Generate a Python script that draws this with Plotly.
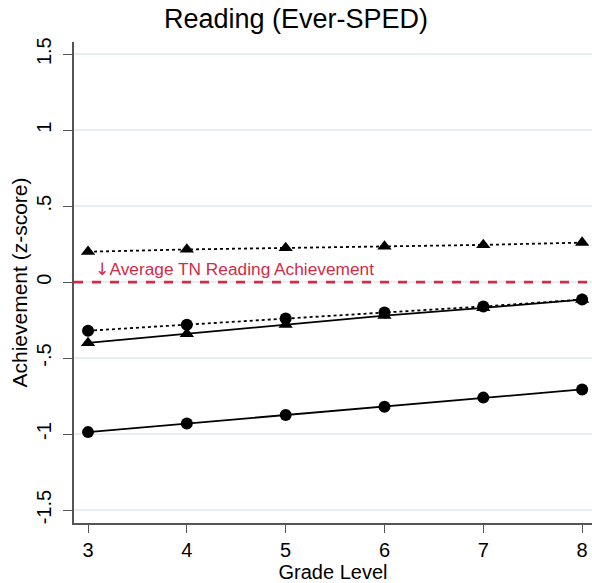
import plotly.graph_objects as go

grades = [3, 4, 5, 6, 7, 8]

# four achievement trajectories (z-scores)
tri_dotted = [0.20, 0.215, 0.225, 0.235, 0.245, 0.26]
circ_dotted = [-0.32, -0.28, -0.24, -0.20, -0.16, -0.115]
tri_solid = [-0.40, -0.34, -0.28, -0.22, -0.17, -0.115]
circ_solid = [-0.987, -0.93, -0.875, -0.82, -0.76, -0.706]

ytick_vals = [-1.5, -1, -0.5, 0, 0.5, 1, 1.5]
ytick_text = ["-1.5", "-1", "-.5", "0", ".5", "1", "1.5"]

avg_level = 0
red = "#d22b47"
font_family = "Liberation Sans, Arial, Helvetica"

fig = go.Figure()

series = [
    (tri_dotted, "triangle-up", "dot", 12.5),
    (circ_dotted, "circle", "dot", 12),
    (tri_solid, "triangle-up", "solid", 12.5),
    (circ_solid, "circle", "solid", 12),
]
for vals, sym, dash, size in series:
    fig.add_trace(go.Scatter(
        x=grades, y=vals, mode="lines+markers",
        line=dict(color="black", width=1.8, dash=dash),
        marker=dict(symbol=sym, size=size, color="black"),
        showlegend=False, cliponaxis=False,
    ))

fig.add_trace(go.Scatter(
    x=[2.858, 8.2], y=[avg_level, avg_level], mode="lines",
    line=dict(color=red, width=2.8, dash="dash"),
    showlegend=False, hoverinfo="skip",
))

fig.add_annotation(
    x=3.05, y=avg_level, yshift=13, xanchor="left", yanchor="middle",
    text="<span style='font-family:DejaVu Sans'>↓</span>Average TN Reading Achievement",
    showarrow=False,
    font=dict(color=red, size=17.3, family=font_family),
)

fig.update_layout(
    width=592, height=583,
    margin=dict(l=74, r=0, t=42, b=60),
    paper_bgcolor="white", plot_bgcolor="white",
    font=dict(family=font_family, color="black"),
    title=dict(text="Reading (Ever-SPED)", x=0.5, xanchor="center",
               y=0.968, yanchor="middle", font=dict(size=27, color="black")),
    xaxis=dict(
        range=[2.858, 8.1], tickvals=grades, ticks="outside", ticklen=8,
        tickcolor="#555", showline=True, linecolor="#555", linewidth=1.5,
        showgrid=False, zeroline=False, tickfont=dict(size=20),
        title=dict(text="Grade Level", font=dict(size=20), standoff=2),
    ),
    yaxis=dict(
        range=[-1.585, 1.58], tickvals=ytick_vals, ticktext=ytick_text,
        tickangle=-90, ticks="outside", ticklen=9, tickcolor="#555",
        ticklabelstandoff=4,
        showline=True, linecolor="#555", linewidth=1.5,
        showgrid=True, gridcolor="#e6f0f2", gridwidth=1.5, zeroline=False,
        tickfont=dict(size=20),
        title=dict(text="Achievement (z-score)", font=dict(size=21), standoff=0),
    ),
)

fig.write_html("out.html")
